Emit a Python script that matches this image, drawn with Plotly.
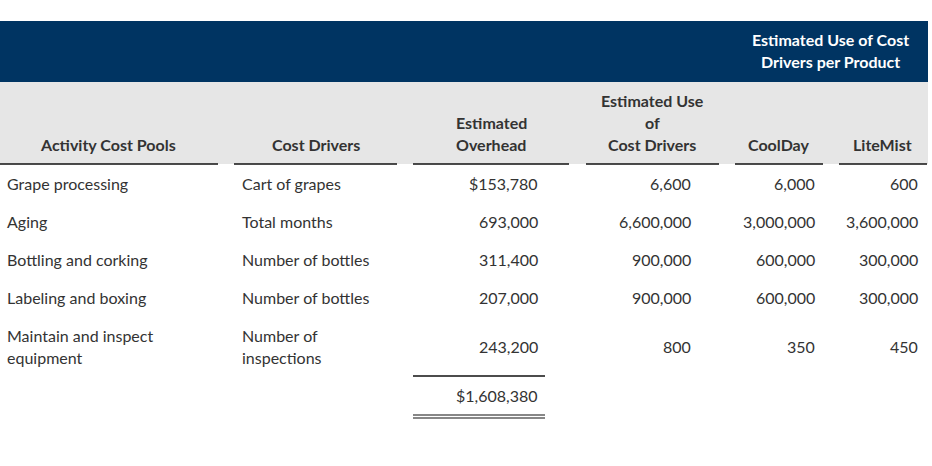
import plotly.graph_objects as go

# ---- data ----
pools = ["Grape processing", "Aging", "Bottling and corking", "Labeling and boxing",
         "Maintain and inspect\nequipment"]
drivers = ["Cart of grapes", "Total months", "Number of bottles", "Number of bottles",
           "Number of\ninspections"]
overhead = [153780, 693000, 311400, 207000, 243200]
est_use = [6600, 6600000, 900000, 900000, 800]
coolday = [6000, 3000000, 600000, 600000, 350]
litemist = [600, 3600000, 300000, 300000, 450]
headers = ["Activity Cost Pools", "Cost Drivers", "Estimated\nOverhead",
           "Estimated Use\nof\nCost Drivers", "CoolDay", "LiteMist"]
group_header = "Estimated Use of Cost\nDrivers per Product"
total = sum(overhead)

# ---- layout constants ----
W, H = 932, 466
FONT = "Lato"
TXT = "#333333"
SIZE = 16
LH = 22
row_y = [183, 221, 259, 297, 346]
total_y = 395
header_base = 144
col_centers = [108, 316, 491, 652, 779, 882]
left_x = {0: 5, 1: 240}
right_x = {2: 540, 3: 693, 4: 817, 5: 920}
underlines = [(0, 218), (234, 397), (413, 569), (586, 719), (735, 823), (839, 927)]

fig = go.Figure()
fig.add_trace(go.Scatter(x=[0], y=[0], mode="markers", marker=dict(opacity=0), hoverinfo="skip", showlegend=False))

shapes = []
# bands
shapes.append(dict(type="rect", x0=0, x1=928, y0=21, y1=82, fillcolor="#003462", line=dict(width=0), layer="below"))
shapes.append(dict(type="rect", x0=0, x1=928, y0=82, y1=164, fillcolor="#e6e6e6", line=dict(width=0), layer="below"))
for x0, x1 in underlines:
    shapes.append(dict(type="line", x0=x0, x1=x1, y0=164, y1=164, line=dict(color="#111111", width=1.5)))
# total lines
shapes.append(dict(type="line", x0=413, x1=545, y0=376, y1=376, line=dict(color="#111111", width=1.5)))
shapes.append(dict(type="line", x0=413, x1=545, y0=415, y1=415, line=dict(color="#111111", width=1.2)))
shapes.append(dict(type="line", x0=413, x1=545, y0=418, y1=418, line=dict(color="#111111", width=1.2)))

ann = []

def add_text(text, x, y, anchor, color=TXT, bold=False, size=SIZE, base_bottom=False):
    lines = text.split("\n")
    n = len(lines)
    for i, ln in enumerate(lines):
        if base_bottom:
            yy = y - (n - 1 - i) * LH
        else:
            yy = y - (n - 1) * LH / 2 + i * LH
        ann.append(dict(x=x, y=yy, text=ln, showarrow=False, xanchor=anchor, yanchor="middle",
                        font=dict(family=FONT, size=size, color=color,
                                  weight="bold" if bold else "normal")))

# group header
add_text(group_header, 830, 50, "center", color="white", bold=True)
# column headers
for h, cx in zip(headers, col_centers):
    add_text(h, cx, header_base, "center", bold=True, base_bottom=True)

# rows
for i in range(len(pools)):
    y = row_y[i]
    add_text(pools[i], left_x[0], y, "left")
    add_text(drivers[i], left_x[1], y, "left")
    oh = f"${overhead[i]:,}" if i == 0 else f"{overhead[i]:,}"
    add_text(oh, right_x[2], y, "right")
    add_text(f"{est_use[i]:,}", right_x[3], y, "right")
    add_text(f"{coolday[i]:,}", right_x[4], y, "right")
    add_text(f"{litemist[i]:,}", right_x[5], y, "right")

add_text(f"${total:,}", right_x[2], total_y, "right")

fig.update_layout(
    width=W, height=H, margin=dict(l=0, r=0, t=0, b=0),
    paper_bgcolor="white", plot_bgcolor="white",
    xaxis=dict(range=[0, W], visible=False, fixedrange=True),
    yaxis=dict(range=[H, 0], visible=False, fixedrange=True),
    shapes=shapes, annotations=ann, showlegend=False,
)
fig.write_html("out.html", config={"displayModeBar": False},
               post_script="document.body.style.margin='0px';")
